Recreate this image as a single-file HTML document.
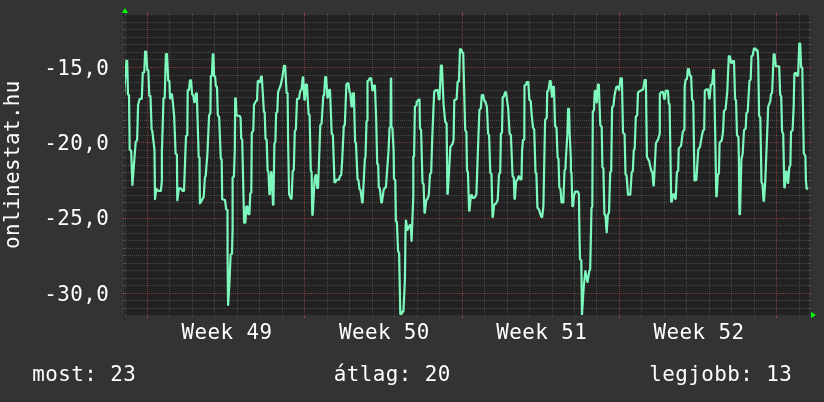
<!DOCTYPE html>
<html lang="hu"><head><meta charset="utf-8"><title>onlinestat.hu</title>
<style>
html,body{margin:0;padding:0;background:#333333;}
body{width:824px;height:402px;overflow:hidden;}
svg{display:block;}
text{font-family:"DejaVu Sans Mono","Liberation Mono",monospace;font-size:22.00px;letter-spacing:0.4391px;fill:#ffffff;white-space:pre;}
.g{stroke:rgba(143,143,143,0.34);stroke-width:1;shape-rendering:crispEdges;fill:none;}
.m{stroke:rgba(222,79,79,0.5);stroke-width:1;shape-rendering:crispEdges;fill:none;}
.d{stroke-dasharray:1 1;}
.ax{stroke:#1f1f1f;stroke-width:1;shape-rendering:crispEdges;}
</style></head><body>
<svg width="824" height="402" viewBox="0 0 824 402">
<rect x="0" y="0" width="824" height="402" fill="#333333"/>
<rect x="125" y="15" width="684" height="300" fill="#222222" shape-rendering="crispEdges"/>
<path class="ax" d="M124.5 319V11"/>
<g id="hgrid">
<path class="g" d="M123 315.5H125 M809 315.5H811"/>
<path class="g d" d="M124 315.5H810"/>
<path class="g" d="M123 308.5H125 M809 308.5H811"/>
<path class="g d" d="M124 308.5H810"/>
<path class="g" d="M123 300.5H125 M809 300.5H811"/>
<path class="g d" d="M124 300.5H810"/>
<path class="m" d="M123 293.5H125 M809 293.5H811"/>
<path class="m d" d="M123 293.5H811"/>
<path class="g" d="M123 285.5H125 M809 285.5H811"/>
<path class="g d" d="M124 285.5H810"/>
<path class="g" d="M123 278.5H125 M809 278.5H811"/>
<path class="g d" d="M124 278.5H810"/>
<path class="g" d="M123 270.5H125 M809 270.5H811"/>
<path class="g d" d="M124 270.5H810"/>
<path class="g" d="M123 263.5H125 M809 263.5H811"/>
<path class="g d" d="M124 263.5H810"/>
<path class="g" d="M123 255.5H125 M809 255.5H811"/>
<path class="g d" d="M124 255.5H810"/>
<path class="g" d="M123 248.5H125 M809 248.5H811"/>
<path class="g d" d="M124 248.5H810"/>
<path class="g" d="M123 240.5H125 M809 240.5H811"/>
<path class="g d" d="M124 240.5H810"/>
<path class="g" d="M123 233.5H125 M809 233.5H811"/>
<path class="g d" d="M124 233.5H810"/>
<path class="g" d="M123 225.5H125 M809 225.5H811"/>
<path class="g d" d="M124 225.5H810"/>
<path class="m" d="M123 218.5H125 M809 218.5H811"/>
<path class="m d" d="M123 218.5H811"/>
<path class="g" d="M123 210.5H125 M809 210.5H811"/>
<path class="g d" d="M124 210.5H810"/>
<path class="g" d="M123 202.5H125 M809 202.5H811"/>
<path class="g d" d="M124 202.5H810"/>
<path class="g" d="M123 195.5H125 M809 195.5H811"/>
<path class="g d" d="M124 195.5H810"/>
<path class="g" d="M123 187.5H125 M809 187.5H811"/>
<path class="g d" d="M124 187.5H810"/>
<path class="g" d="M123 180.5H125 M809 180.5H811"/>
<path class="g d" d="M124 180.5H810"/>
<path class="g" d="M123 172.5H125 M809 172.5H811"/>
<path class="g d" d="M124 172.5H810"/>
<path class="g" d="M123 165.5H125 M809 165.5H811"/>
<path class="g d" d="M124 165.5H810"/>
<path class="g" d="M123 157.5H125 M809 157.5H811"/>
<path class="g d" d="M124 157.5H810"/>
<path class="g" d="M123 150.5H125 M809 150.5H811"/>
<path class="g d" d="M124 150.5H810"/>
<path class="m" d="M123 142.5H125 M809 142.5H811"/>
<path class="m d" d="M123 142.5H811"/>
<path class="g" d="M123 135.5H125 M809 135.5H811"/>
<path class="g d" d="M124 135.5H810"/>
<path class="g" d="M123 127.5H125 M809 127.5H811"/>
<path class="g d" d="M124 127.5H810"/>
<path class="g" d="M123 120.5H125 M809 120.5H811"/>
<path class="g d" d="M124 120.5H810"/>
<path class="g" d="M123 112.5H125 M809 112.5H811"/>
<path class="g d" d="M124 112.5H810"/>
<path class="g" d="M123 105.5H125 M809 105.5H811"/>
<path class="g d" d="M124 105.5H810"/>
<path class="g" d="M123 97.5H125 M809 97.5H811"/>
<path class="g d" d="M124 97.5H810"/>
<path class="g" d="M123 90.5H125 M809 90.5H811"/>
<path class="g d" d="M124 90.5H810"/>
<path class="g" d="M123 82.5H125 M809 82.5H811"/>
<path class="g d" d="M124 82.5H810"/>
<path class="g" d="M123 75.5H125 M809 75.5H811"/>
<path class="g d" d="M124 75.5H810"/>
<path class="m" d="M123 67.5H125 M809 67.5H811"/>
<path class="m d" d="M123 67.5H811"/>
<path class="g" d="M123 59.5H125 M809 59.5H811"/>
<path class="g d" d="M124 59.5H810"/>
<path class="g" d="M123 52.5H125 M809 52.5H811"/>
<path class="g d" d="M124 52.5H810"/>
<path class="g" d="M123 44.5H125 M809 44.5H811"/>
<path class="g d" d="M124 44.5H810"/>
<path class="g" d="M123 37.5H125 M809 37.5H811"/>
<path class="g d" d="M124 37.5H810"/>
<path class="g" d="M123 29.5H125 M809 29.5H811"/>
<path class="g d" d="M124 29.5H810"/>
<path class="g" d="M123 22.5H125 M809 22.5H811"/>
<path class="g d" d="M124 22.5H810"/>
</g>
<g id="vgrid">
<path class="g" d="M125.5 13V15 M125.5 315V317"/>
<path class="g d" d="M125.5 316V14"/>
<path class="m" d="M147.5 13V15 M147.5 315V318"/>
<path class="m d" d="M147.5 318V13"/>
<path class="g" d="M169.5 13V15 M169.5 315V317"/>
<path class="g d" d="M169.5 316V14"/>
<path class="g" d="M192.5 13V15 M192.5 315V317"/>
<path class="g d" d="M192.5 316V14"/>
<path class="g" d="M214.5 13V15 M214.5 315V317"/>
<path class="g d" d="M214.5 316V14"/>
<path class="g" d="M237.5 13V15 M237.5 315V317"/>
<path class="g d" d="M237.5 316V14"/>
<path class="g" d="M259.5 13V15 M259.5 315V317"/>
<path class="g d" d="M259.5 316V14"/>
<path class="g" d="M282.5 13V15 M282.5 315V317"/>
<path class="g d" d="M282.5 316V14"/>
<path class="m" d="M304.5 13V15 M304.5 315V318"/>
<path class="m d" d="M304.5 318V13"/>
<path class="g" d="M327.5 13V15 M327.5 315V317"/>
<path class="g d" d="M327.5 316V14"/>
<path class="g" d="M349.5 13V15 M349.5 315V317"/>
<path class="g d" d="M349.5 316V14"/>
<path class="g" d="M372.5 13V15 M372.5 315V317"/>
<path class="g d" d="M372.5 316V14"/>
<path class="g" d="M394.5 13V15 M394.5 315V317"/>
<path class="g d" d="M394.5 316V14"/>
<path class="g" d="M417.5 13V15 M417.5 315V317"/>
<path class="g d" d="M417.5 316V14"/>
<path class="g" d="M439.5 13V15 M439.5 315V317"/>
<path class="g d" d="M439.5 316V14"/>
<path class="m" d="M462.5 13V15 M462.5 315V318"/>
<path class="m d" d="M462.5 318V13"/>
<path class="g" d="M484.5 13V15 M484.5 315V317"/>
<path class="g d" d="M484.5 316V14"/>
<path class="g" d="M507.5 13V15 M507.5 315V317"/>
<path class="g d" d="M507.5 316V14"/>
<path class="g" d="M529.5 13V15 M529.5 315V317"/>
<path class="g d" d="M529.5 316V14"/>
<path class="g" d="M552.5 13V15 M552.5 315V317"/>
<path class="g d" d="M552.5 316V14"/>
<path class="g" d="M574.5 13V15 M574.5 315V317"/>
<path class="g d" d="M574.5 316V14"/>
<path class="g" d="M596.5 13V15 M596.5 315V317"/>
<path class="g d" d="M596.5 316V14"/>
<path class="m" d="M619.5 13V15 M619.5 315V318"/>
<path class="m d" d="M619.5 318V13"/>
<path class="g" d="M641.5 13V15 M641.5 315V317"/>
<path class="g d" d="M641.5 316V14"/>
<path class="g" d="M664.5 13V15 M664.5 315V317"/>
<path class="g d" d="M664.5 316V14"/>
<path class="g" d="M686.5 13V15 M686.5 315V317"/>
<path class="g d" d="M686.5 316V14"/>
<path class="g" d="M709.5 13V15 M709.5 315V317"/>
<path class="g d" d="M709.5 316V14"/>
<path class="g" d="M731.5 13V15 M731.5 315V317"/>
<path class="g d" d="M731.5 316V14"/>
<path class="g" d="M754.5 13V15 M754.5 315V317"/>
<path class="g d" d="M754.5 316V14"/>
<path class="m" d="M776.5 13V15 M776.5 315V318"/>
<path class="m d" d="M776.5 318V13"/>
<path class="g" d="M799.5 13V15 M799.5 315V317"/>
<path class="g d" d="M799.5 316V14"/>
</g>
<clipPath id="cv"><rect x="125" y="15" width="684" height="300"/></clipPath>
<polyline clip-path="url(#cv)" points="123.9,97.0 126.4,60.9 127.2,60.9 128.0,94.6 129.0,95.0 129.7,149.4 131.2,151.1 132.4,184.9 135.7,141.9 137.1,140.2 138.1,105.0 139.6,99.0 141.8,98.6 142.8,72.8 144.3,72.3 145.1,51.6 146.2,51.6 147.3,70.0 148.3,70.3 149.3,95.8 150.5,96.1 151.6,129.3 152.3,131.0 154.5,150.2 155.0,199.2 156.3,188.8 158.0,190.8 160.8,190.8 161.9,180.8 161.9,151.9 163.5,98.3 164.7,98.0 165.9,54.1 167.0,54.1 168.2,80.4 169.4,80.9 170.0,98.0 170.4,98.3 171.3,94.3 172.0,94.3 173.1,105.0 174.2,116.8 175.6,153.6 176.9,154.4 177.3,200.3 178.9,188.3 180.9,188.3 182.6,190.8 184.0,190.8 186.0,136.0 187.3,135.2 187.7,90.4 189.0,89.9 190.0,80.4 191.0,80.4 192.2,94.6 193.2,95.0 194.4,102.2 194.8,102.2 196.1,93.3 196.8,93.3 198.7,156.9 199.5,157.8 199.9,203.4 201.6,200.8 203.7,196.7 204.9,177.4 205.7,175.7 207.4,153.6 209.1,115.1 210.4,113.4 210.8,76.2 211.9,75.5 212.8,54.4 213.4,54.4 214.1,76.2 215.1,76.5 215.9,86.2 217.0,86.8 217.8,115.1 219.1,116.8 220.8,158.6 221.7,159.4 222.2,199.2 225.0,200.0 226.2,209.2 227.5,210.1 227.6,260.0 228.1,305.0 229.4,284.0 230.6,254.5 232.0,253.6 232.6,228.0 232.6,177.4 233.9,176.6 234.8,150.0 235.2,98.4 235.7,98.4 236.4,115.3 239.9,116.0 240.6,118.0 241.2,138.5 242.2,139.4 244.1,222.6 245.4,222.6 246.3,206.7 247.4,206.7 248.3,214.2 249.4,214.2 250.3,193.3 251.3,192.5 251.8,132.7 253.3,130.7 254.0,105.0 255.3,102.3 256.0,101.0 257.0,100.5 257.8,81.2 259.0,80.9 259.0,82.1 260.0,82.1 261.1,76.7 261.8,76.7 263.9,111.7 264.7,112.6 265.5,138.5 266.7,140.2 267.6,170.7 268.4,171.5 269.4,194.2 269.9,194.2 271.1,172.0 271.5,172.0 273.0,204.7 273.4,204.7 274.4,143.5 275.4,141.9 276.1,113.4 277.3,111.7 278.1,92.1 280.6,85.4 282.4,77.0 284.0,65.8 285.1,65.8 286.6,92.9 287.6,93.3 288.1,141.9 289.1,194.2 290.9,198.7 291.6,198.7 292.7,171.0 293.8,170.0 294.8,131.0 295.9,129.3 297.0,99.1 299.0,98.5 300.2,91.3 301.5,89.3 302.8,77.4 303.2,77.4 304.4,99.6 304.9,99.6 305.9,84.6 306.9,84.6 308.6,114.2 309.6,115.1 310.8,170.7 311.6,171.7 312.3,214.8 312.7,214.8 314.6,179.1 315.6,175.1 316.2,175.1 317.1,187.9 318.1,187.9 320.3,125.1 321.6,123.5 323.3,95.8 324.1,95.1 325.2,77.0 326.1,77.0 327.4,97.6 327.8,97.6 329.2,89.9 330.0,89.9 331.7,133.5 332.9,135.2 334.5,182.1 335.5,182.1 336.4,179.9 339.1,179.6 339.9,176.1 341.2,175.1 342.2,160.3 343.8,126.0 344.8,125.1 346.4,84.6 347.3,83.4 348.4,83.4 349.6,92.1 350.3,92.9 351.5,106.4 352.1,106.4 353.0,93.4 353.9,93.4 355.1,141.9 356.0,143.5 357.5,179.1 358.5,180.1 359.5,189.1 360.5,190.0 362.2,202.5 362.6,202.5 364.9,158.6 365.5,156.9 366.5,121.8 367.5,120.1 367.5,81.2 368.7,80.5 369.5,78.4 371.2,78.4 372.4,90.4 372.8,90.4 373.8,85.6 374.9,85.6 376.1,116.8 377.2,163.6 378.2,164.5 378.8,187.4 379.8,188.4 381.3,202.5 381.9,202.5 383.6,190.0 384.8,187.8 385.9,187.4 388.6,150.0 389.5,128.2 390.6,126.5 390.8,78.7 391.2,78.7 391.4,126.5 392.4,128.2 393.6,150.0 394.0,179.1 395.3,179.9 395.9,221.0 396.9,222.0 398.1,251.5 399.1,252.5 400.3,314.0 401.6,314.0 402.3,311.7 403.4,311.7 404.9,280.0 405.5,232.0 405.9,220.5 407.5,230.0 409.9,225.0 410.8,226.0 411.6,241.0 412.4,220.0 413.3,196.0 413.3,180.8 413.3,156.9 414.1,156.1 414.9,106.7 416.6,105.0 416.6,102.2 418.6,99.6 419.5,99.6 420.0,128.5 421.1,130.2 422.5,182.8 423.6,184.1 424.5,212.6 424.9,212.6 426.2,200.5 427.5,198.8 428.8,195.0 430.0,174.4 431.2,172.7 432.2,139.4 433.4,110.0 434.2,92.1 435.2,90.4 437.7,90.1 438.9,99.3 439.5,99.3 440.9,65.6 441.9,65.6 443.6,105.0 445.2,121.8 446.6,123.5 447.4,193.8 447.8,193.8 450.4,146.9 452.6,143.9 453.6,139.4 454.3,100.1 456.6,99.3 457.6,82.1 459.0,80.9 460.0,49.4 461.3,49.4 462.3,52.8 463.2,52.8 465.2,130.2 466.4,131.8 467.0,170.7 467.9,171.7 469.1,210.6 469.5,210.6 470.9,195.3 471.9,195.0 472.9,198.0 474.1,198.0 475.6,196.2 476.4,194.2 477.7,156.9 479.4,110.0 480.8,108.4 481.8,95.1 483.1,95.1 484.4,101.0 485.4,101.7 486.9,106.7 488.1,133.5 489.1,135.2 490.3,172.7 491.5,174.1 492.5,216.9 492.9,216.9 494.1,205.0 496.0,203.4 497.7,200.0 499.0,174.4 500.2,172.7 500.9,133.5 502.0,132.7 502.7,97.1 504.0,96.3 505.1,92.3 506.0,92.3 508.2,108.4 509.6,133.5 510.9,135.2 512.6,176.1 513.8,177.4 514.5,198.8 514.9,198.8 516.1,181.1 517.4,179.9 518.6,176.4 519.2,176.4 520.3,179.4 521.5,179.1 522.1,150.2 523.0,140.2 524.3,139.4 524.5,85.4 526.1,84.6 526.8,82.1 528.3,82.1 529.3,99.6 530.7,101.0 531.7,115.1 533.0,127.6 534.2,129.3 535.5,172.4 536.4,173.4 537.4,207.5 539.0,209.6 541.2,216.8 542.2,216.8 543.4,205.9 545.1,120.1 546.8,117.6 547.2,91.6 548.4,90.6 549.8,81.2 550.7,81.2 551.9,96.6 553.1,86.8 553.9,86.8 555.1,126.0 556.5,127.6 557.6,157.8 558.5,158.6 559.3,187.4 560.5,189.1 561.5,202.5 563.3,202.5 564.5,170.7 565.5,169.0 565.8,160.0 567.4,134.0 568.1,108.8 569.0,108.8 569.7,134.0 570.9,160.0 570.9,172.0 571.5,172.7 572.4,206.2 573.0,206.2 574.0,195.8 575.2,191.6 577.9,191.6 578.9,194.2 579.5,235.0 580.0,259.0 581.3,260.5 582.0,314.5 583.8,286.0 585.4,271.2 587.5,282.0 589.3,271.0 590.2,269.5 590.6,250.0 591.5,207.9 592.3,206.9 592.8,111.7 594.0,110.0 594.7,91.3 595.6,90.6 596.7,102.5 597.9,84.6 598.8,84.6 600.3,125.1 601.7,126.8 602.4,167.3 603.4,168.3 604.4,214.2 605.5,215.9 606.7,232.5 607.9,214.2 609.0,212.9 610.2,172.4 611.2,171.0 612.1,107.5 613.4,105.9 614.6,95.0 616.3,87.1 617.9,86.6 619.1,89.9 620.5,78.4 621.9,78.4 623.0,132.7 624.6,134.3 625.5,174.1 626.6,175.7 628.0,194.7 630.3,194.7 631.7,172.4 632.8,171.0 633.8,150.2 634.7,148.6 635.8,116.8 637.2,115.1 638.0,92.4 640.5,90.8 643.2,89.3 644.6,80.2 645.9,80.2 646.9,156.9 649.2,161.1 651.2,170.7 652.4,172.4 653.4,185.4 653.8,185.4 655.9,143.2 658.1,139.4 659.8,133.5 659.8,94.1 661.1,92.1 663.0,92.1 664.2,98.8 664.8,98.8 665.8,90.9 667.7,90.6 668.0,91.5 668.7,103.0 669.6,104.8 669.6,104.2 671.2,201.7 671.7,201.7 672.9,194.5 673.9,194.2 675.1,198.8 675.7,198.8 676.9,172.0 678.2,170.7 678.7,148.6 681.1,145.6 682.8,131.8 684.4,129.3 684.7,86.2 685.6,79.9 686.9,78.9 687.9,69.2 688.9,69.2 689.9,75.5 691.1,76.2 692.1,99.6 693.1,101.0 693.3,103.3 694.5,180.4 696.3,179.9 698.3,149.4 700.0,146.9 701.2,139.4 702.9,131.0 704.2,129.3 704.8,90.9 705.8,89.6 708.0,89.3 709.2,98.3 709.6,98.3 710.8,84.9 712.2,83.9 713.2,70.0 714.0,70.0 715.2,133.5 716.3,196.3 716.7,196.3 717.8,175.1 718.9,173.4 719.6,142.7 721.8,140.2 723.0,131.8 724.0,110.9 725.6,109.2 727.3,91.3 728.8,56.4 729.9,56.4 731.1,62.8 732.1,62.8 732.8,61.1 734.0,61.1 735.1,99.3 736.1,100.5 736.1,103.3 737.0,135.2 738.4,136.8 738.9,158.6 739.4,214.2 740.0,214.2 741.4,159.4 742.7,153.6 744.0,130.2 745.7,128.5 746.4,113.4 747.7,111.7 748.4,99.3 749.5,80.7 750.7,79.5 751.5,56.4 752.7,55.4 753.9,48.7 755.7,48.7 756.2,50.4 757.6,50.4 758.2,59.5 759.1,115.9 760.3,117.6 761.5,182.4 762.5,184.1 763.5,200.8 764.0,200.8 765.3,180.8 768.2,106.7 770.4,100.8 770.4,100.0 771.0,94.1 772.1,92.9 773.7,54.4 774.6,54.4 775.8,66.2 779.2,66.5 780.2,94.6 781.2,96.3 782.1,131.8 783.2,133.5 784.3,187.4 784.7,187.4 786.0,171.7 786.6,171.4 787.8,182.8 788.2,182.8 789.3,167.3 790.4,165.3 790.4,163.6 791.0,131.8 792.6,130.2 793.8,103.3 793.8,100.0 794.4,73.7 795.8,72.8 797.1,75.9 798.1,75.5 799.3,43.5 800.2,43.5 801.1,67.2 802.3,67.8 802.8,100.0 803.8,153.5 805.4,156.0 805.9,180.0 806.6,188.6 808.2,188.6" fill="none" stroke="#7df9bd" stroke-width="2.2" stroke-linejoin="round" stroke-linecap="butt"/>
<path class="ax" opacity="0.55" d="M121 315.5H813"/>
<polygon points="811,312 811,318 816,315" fill="#00ff00"/>
<polygon points="122,13 128,13 125,8" fill="#00ff00"/>
<g id="labels" opacity="0.999">
<text transform="translate(44.20,74.70) scale(0.9500,1)">-15,0</text>
<text transform="translate(44.20,149.70) scale(0.9500,1)">-20,0</text>
<text transform="translate(44.20,224.70) scale(0.9500,1)">-25,0</text>
<text transform="translate(44.20,300.70) scale(0.9500,1)">-30,0</text>
<text transform="translate(181.60,338.50) scale(0.9500,1)">Week 49</text>
<text transform="translate(338.93,338.50) scale(0.9500,1)">Week 50</text>
<text transform="translate(496.27,338.50) scale(0.9500,1)">Week 51</text>
<text transform="translate(653.60,338.50) scale(0.9500,1)">Week 52</text>
<text transform="translate(19.00,249.00) rotate(-90) scale(0.9500,1)">onlinestat.hu</text>
<text transform="translate(32.25,380.70) scale(0.9500,1)">most: 23</text>
<text transform="translate(333.75,380.70) scale(0.9500,1)">átlag: 20</text>
<text transform="translate(649.25,380.70) scale(0.9500,1)">legjobb: 13</text>
</g>
</svg>
</body></html>
